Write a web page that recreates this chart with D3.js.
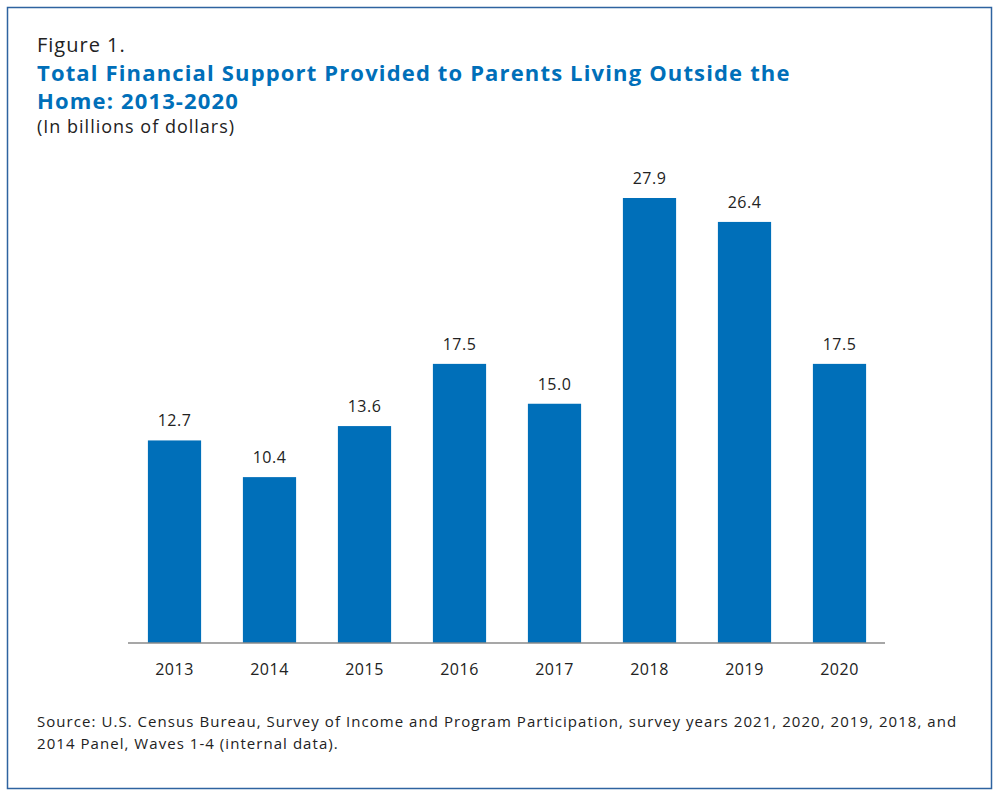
<!DOCTYPE html>
<html>
<head>
<meta charset="utf-8">
<script src="https://cdn.jsdelivr.net/npm/d3@7"></script>
<style>
  body { margin: 0; background: #fff; }
  text { font-family: "Open Sans", "DejaVu Sans", sans-serif; }
</style>
</head>
<body>
<svg id="chart" width="1000" height="795"></svg>
<script>
// chart data
var years  = ['2013', '2014', '2015', '2016', '2017', '2018', '2019', '2020']
var values = [12.7, 10.4, 13.6, 17.5, 15.0, 27.9, 26.4, 17.5]

var figureLabel = 'Figure 1.'
var titleLines  = ['Total Financial Support Provided to Parents Living Outside the',
                   'Home: 2013-2020']
var subtitle    = '(In billions of dollars)'
var sourceLines = ['Source: U.S. Census Bureau, Survey of Income and Program Participation, survey years 2021, 2020, 2019, 2018, and',
                   '2014 Panel, Waves 1-4 (internal data).']

var blue = '#006fb9'

var svg = d3.select('#chart')

// frame
svg.append('rect')
    .attr('x', 7.5).attr('y', 7.5)
    .attr('width', 984).attr('height', 781)
    .attr('fill', 'none')
    .attr('stroke', '#2e63a0')
    .attr('stroke-width', 1.5)

// headings
svg.append('text')
    .attr('x', 37).attr('y', 52)
    .style('font-size', '20px')
    .style('letter-spacing', '1px')
    .style('fill', '#222')
    .text(figureLabel)

svg.selectAll('text.title')
    .data(titleLines)
    .enter().append('text')
    .attr('class', 'title')
    .attr('x', 37)
    .attr('y', (d, i)=> 81 + i * 28)
    .style('font-size', '22px')
    .style('font-weight', 'bold')
    .style('letter-spacing', '1.15px')
    .style('fill', blue)
    .text(d=> d)

svg.append('text')
    .attr('x', 37).attr('y', 133)
    .style('font-size', '18px')
    .style('letter-spacing', '1px')
    .style('fill', '#222')
    .text(subtitle)

// scales
var x = d3.scaleBand()
    .domain(years)
    .range([127, 887])
    .paddingInner(0.44)
    .paddingOuter(0.22)

var y = d3.scaleLinear()
    .domain([0, 30])
    .range([643, 164.5])

var plot = svg.append('g')

plot.selectAll('rect.bar')
    .data(values)
    .enter().append('rect')
    .attr('class', 'bar')
    .attr('x', (d, i)=> x(years[i]))
    .attr('y', d=> y(d))
    .attr('width', x.bandwidth())
    .attr('height', d=> y(0) - y(d))
    .attr('fill', blue)

plot.selectAll('text.value')
    .data(values)
    .enter().append('text')
    .attr('class', 'value')
    .attr('x', (d, i)=> x(years[i]) + x.bandwidth() / 2)
    .attr('y', d=> y(d) - 14)
    .attr('text-anchor', 'middle')
    .style('font-size', '16px')
    .style('letter-spacing', '0.5px')
    .style('fill', '#222')
    .text(d=> d.toFixed(1))

// x axis
var xAxis = svg.append('g')
    .attr('transform', 'translate(0,' + y(0) + ')')
    .call(d3.axisBottom(x).tickSize(0).tickPadding(21))

xAxis.select('.domain')
    .attr('d', 'M' + (x.range()[0] + 1) + ',0H' + (x.range()[1] - 2))
    .attr('stroke', '#8a8a8a')
    .attr('stroke-width', 1.5)

xAxis.selectAll('text')
    .style('font-size', '16px')
    .style('letter-spacing', '0.5px')
    .style('fill', '#222')
    .style('font-family', '"Open Sans", "DejaVu Sans", sans-serif')

// source note
svg.selectAll('text.source')
    .data(sourceLines)
    .enter().append('text')
    .attr('class', 'source')
    .attr('x', 37)
    .attr('y', (d, i)=> 727 + i * 22)
    .style('font-size', '15px')
    .style('letter-spacing', '1.05px')
    .style('fill', '#222')
    .text(d=> d)
</script>
</body>
</html>
